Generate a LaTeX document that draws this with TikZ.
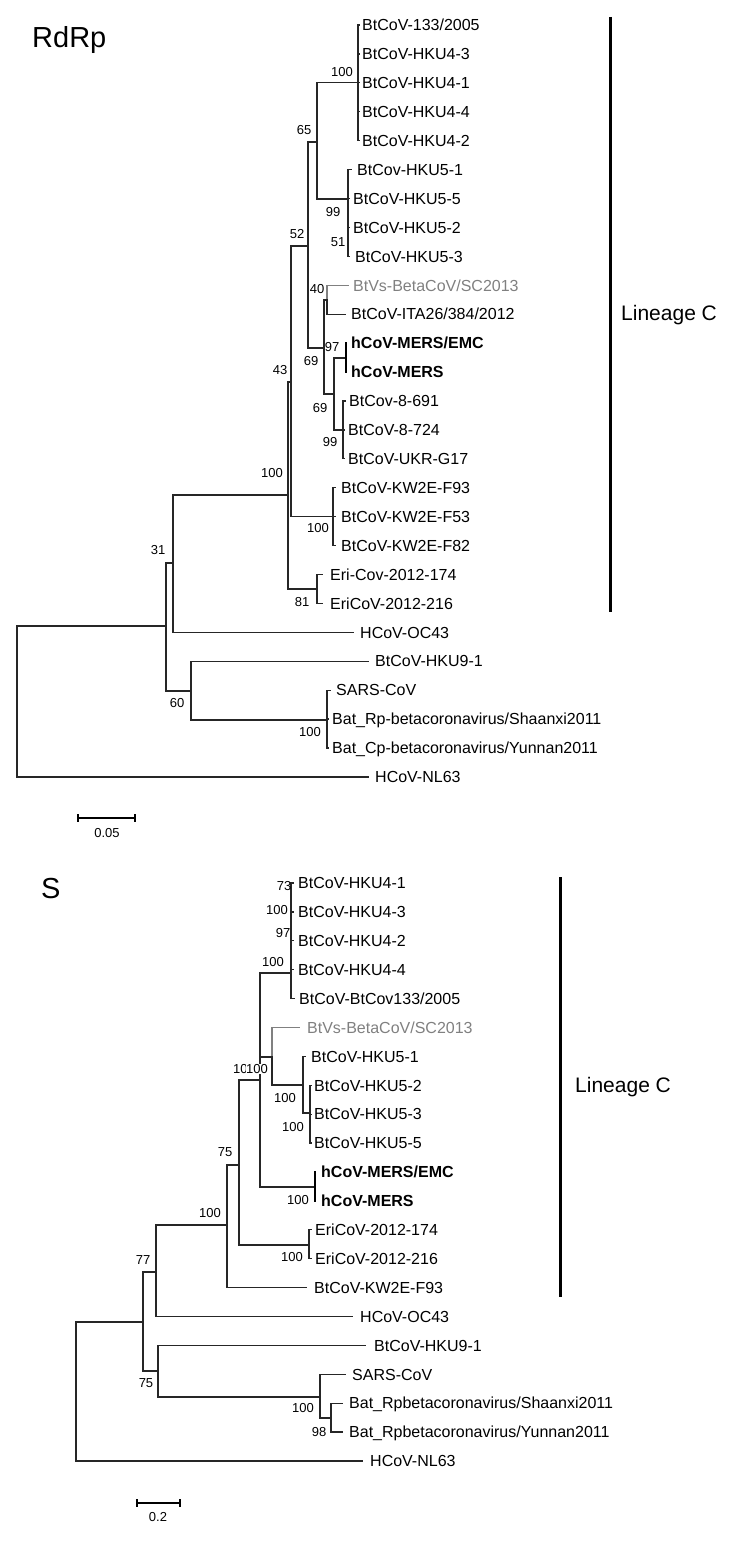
\documentclass[tikz,border=0pt]{standalone}
\usepackage{fontspec}
\setmainfont{Liberation Sans}
\definecolor{greyv}{HTML}{808080}
\begin{document}
\begin{tikzpicture}[x=1pt,y=-1pt,
  br/.style={line width=1.3pt, black!85, line cap=rect},
  brg/.style={line width=1.3pt, greyv},
  brthick/.style={line width=2.2pt, black},
  leaflab/.style={anchor=west, inner sep=0pt, font=\fontsize{16}{16}\selectfont, text height=11.4pt, text depth=0pt},
  bs/.style={inner sep=0pt, font=\fontsize{13}{13}\selectfont, text height=9.3pt, text depth=0pt},
  bsw/.style={bs, fill=white, inner sep=0.4pt},
  ttl/.style={anchor=west, inner sep=0pt, font=\fontsize{29}{29}\selectfont, text height=20.8pt, text depth=0pt},
  lin/.style={anchor=west, inner sep=0pt, font=\fontsize{21}{21}\selectfont, text height=15pt, text depth=0pt},
  bar/.style={line width=3pt, black},
  sbar/.style={line width=1.4pt, black}
]
\useasboundingbox (0,0) rectangle (750,1557);

% ================= RdRp =================
\node[ttl] (t1) at (32,37) {RdRp};

\coordinate (R) at (17,701);
\coordinate (A) at (166,626);
\coordinate (C31) at (173,563);
\coordinate (N100a) at (288,495);
\coordinate (N43) at (291,382);
\coordinate (N52) at (308,246);
\coordinate (N65) at (317,142);
\coordinate (H4) at (358,82.8);
\coordinate (H5) at (348,199);
\coordinate (N69) at (324,348);
\coordinate (N40) at (327,300);
\coordinate (N69b) at (334,394);
\coordinate (ME) at (346,358);
\coordinate (N8) at (343,430);
\coordinate (KW) at (333,516.6);
\coordinate (ER) at (317,589);
\coordinate (N60) at (191,691);
\coordinate (SA) at (327,720);

% leaves: tips and labels
\coordinate (ta0) at (359,25.0);   \node[leaflab] (la0) at (362,25.0) {BtCoV-133/2005};
\coordinate (ta1) at (359,53.9);   \node[leaflab] (la1) at (362,53.9) {BtCoV-HKU4-3};
\coordinate (ta2) at (359,82.8);   \node[leaflab] (la2) at (362,82.8) {BtCoV-HKU4-1};
\coordinate (ta3) at (359,111.8);  \node[leaflab] (la3) at (362,111.8) {BtCoV-HKU4-4};
\coordinate (ta4) at (359,140.7);  \node[leaflab] (la4) at (362,140.7) {BtCoV-HKU4-2};
\coordinate (ta5) at (351,169.6);  \node[leaflab] (la5) at (357,169.6) {BtCov-HKU5-1};
\coordinate (ta6) at (349,198.5);  \node[leaflab] (la6) at (353,198.5) {BtCoV-HKU5-5};
\coordinate (ta7) at (349,227.4);  \node[leaflab] (la7) at (353,227.4) {BtCoV-HKU5-2};
\coordinate (ta8) at (349,256.4);  \node[leaflab] (la8) at (355,256.4) {BtCoV-HKU5-3};
\coordinate (ta9) at (349,285.3);  \node[leaflab, text=greyv] (la9) at (353,285.3) {BtVs-BetaCoV/SC2013};
\coordinate (ta10) at (345,314.2); \node[leaflab] (la10) at (351,314.2) {BtCoV-ITA26/384/2012};
\coordinate (ta11) at (347,343.1); \node[leaflab] (la11) at (351,343.1) {\bfseries hCoV-MERS/EMC};
\coordinate (ta12) at (347,372.0); \node[leaflab] (la12) at (351,372.0) {\bfseries hCoV-MERS};
\coordinate (ta13) at (345,401.0); \node[leaflab] (la13) at (349,401.0) {BtCov-8-691};
\coordinate (ta14) at (344,429.9); \node[leaflab] (la14) at (348,429.9) {BtCoV-8-724};
\coordinate (ta15) at (344,458.8); \node[leaflab] (la15) at (348,458.8) {BtCoV-UKR-G17};
\coordinate (ta16) at (335,487.7); \node[leaflab] (la16) at (341,487.7) {BtCoV-KW2E-F93};
\coordinate (ta17) at (335,516.6); \node[leaflab] (la17) at (341,516.6) {BtCoV-KW2E-F53};
\coordinate (ta18) at (335,545.6); \node[leaflab] (la18) at (341,545.6) {BtCoV-KW2E-F82};
\coordinate (ta19) at (322,574.5); \node[leaflab] (la19) at (330,574.5) {Eri-Cov-2012-174};
\coordinate (ta20) at (322,603.4); \node[leaflab] (la20) at (330,603.4) {EriCoV-2012-216};
\coordinate (ta21) at (353,632.3); \node[leaflab] (la21) at (360,632.3) {HCoV-OC43};
\coordinate (ta22) at (368,661.2); \node[leaflab] (la22) at (375,661.2) {BtCoV-HKU9-1};
\coordinate (ta23) at (330,690.2); \node[leaflab] (la23) at (336,690.2) {SARS-CoV};
\coordinate (ta24) at (328,719.1); \node[leaflab] (la24) at (332,719.1) {Bat\_Rp-betacoronavirus/Shaanxi2011};
\coordinate (ta25) at (328,748.0); \node[leaflab] (la25) at (332,748.0) {Bat\_Cp-betacoronavirus/Yunnan2011};
\coordinate (ta26) at (368,776.9); \node[leaflab] (la26) at (375,776.9) {HCoV-NL63};

% branches
\draw[br] (R) |- (A);  \draw[br] (R) |- (ta26);
\draw[br] (A) |- (C31); \draw[br] (A) |- (N60);
\draw[br] (C31) |- (N100a); \draw[br] (C31) |- (ta21);
\draw[br] (N100a) |- (N43); \draw[br] (N100a) |- (ER);
\draw[br] (N43) |- (N52); \draw[br] (N43) |- (KW);
\draw[br] (N52) |- (N65); \draw[br] (N52) |- (N69);
\draw[br] (N65) |- (H4); \draw[br] (N65) |- (H5);
\foreach \i in {0,...,4} {\draw[br] (H4) |- (ta\i);}
\foreach \i in {5,...,8} {\draw[br] (H5) |- (ta\i);}
\draw[br] (N69) |- (N40); \draw[br] (N69) |- (N69b);
\draw[brg] (N40) |- (ta9); \draw[br] (N40) |- (ta10);
\draw[br] (N69b) |- (ME); \draw[br] (N69b) |- (N8);
\draw[brthick] (ME) |- (ta11); \draw[brthick] (ME) |- (ta12);
\foreach \i in {13,14,15} {\draw[br] (N8) |- (ta\i);}
\foreach \i in {16,17,18} {\draw[br] (KW) |- (ta\i);}
\draw[br] (ER) |- (ta19); \draw[br] (ER) |- (ta20);
\draw[br] (N60) |- (ta22); \draw[br] (N60) |- (SA);
\foreach \i in {23,24,25} {\draw[br] (SA) |- (ta\i);}

% bootstrap values
\node[bs] (ba1) at (342,72) {100};
\node[bs] (ba2) at (304,130) {65};
\node[bs] (ba3) at (333,212) {99};
\node[bs] (ba4) at (338,242) {51};
\node[bs] (ba5) at (297,234) {52};
\node[bs] (ba6) at (317,289) {40};
\node[bs] (ba7) at (332,347) {97};
\node[bs] (ba8) at (311,361) {69};
\node[bs] (ba9) at (320,408) {69};
\node[bs] (ba10) at (330,442) {99};
\node[bs] (ba11) at (280,370) {43};
\node[bs] (ba12) at (272,473) {100};
\node[bs] (ba13) at (318,528) {100};
\node[bs] (ba14) at (302,602) {81};
\node[bs] (ba15) at (158,550) {31};
\node[bs] (ba16) at (177,703) {60};
\node[bs] (ba17) at (310,732) {100};

% lineage bar
\coordinate (lca) at (610,17);
\coordinate (lcb) at (610,612);
\draw[bar] (lca) -- (lcb);
\node[lin] (lc1) at (621,313) {Lineage C};

% scale bar
\coordinate (sa1) at (78,818);
\coordinate (sa2) at (135,818);
\draw[sbar] (sa1) -- (sa2);
\draw[sbar] ([yshift=4pt]sa1) -- ([yshift=-4pt]sa1);
\draw[sbar] ([yshift=4pt]sa2) -- ([yshift=-4pt]sa2);
\node[bs] (sl1) at (107,833) {0.05};

% ================= S =================
\node[ttl] (t2) at (41,888) {S};

\coordinate (SR) at (76,1390);
\coordinate (S143) at (143,1322);
\coordinate (S77) at (156,1272);
\coordinate (S100a) at (227,1225);
\coordinate (S75) at (239,1165);
\coordinate (S100b) at (260,1080);
\coordinate (SH4) at (291,973);
\coordinate (S100c) at (272,1057);
\coordinate (S5) at (303,1085);
\coordinate (S5b) at (310,1113);
\coordinate (SME) at (315,1187);
\coordinate (SER) at (309,1245);
\coordinate (S75b) at (158,1371);
\coordinate (S100d) at (320,1397);
\coordinate (S98) at (331,1418);

\coordinate (tb0) at (293,883.0);   \node[leaflab] (lb0) at (298,883.0) {BtCoV-HKU4-1};
\coordinate (tb1) at (293,911.9);   \node[leaflab] (lb1) at (298,911.9) {BtCoV-HKU4-3};
\coordinate (tb2) at (293,940.8);   \node[leaflab] (lb2) at (298,940.8) {BtCoV-HKU4-2};
\coordinate (tb3) at (293,969.7);   \node[leaflab] (lb3) at (298,969.7) {BtCoV-HKU4-4};
\coordinate (tb4) at (294,998.6);   \node[leaflab] (lb4) at (299,998.6) {BtCoV-BtCov133/2005};
\coordinate (tb5) at (300,1027.5);  \node[leaflab, text=greyv] (lb5) at (307,1027.5) {BtVs-BetaCoV/SC2013};
\coordinate (tb6) at (305,1056.4);  \node[leaflab] (lb6) at (311,1056.4) {BtCoV-HKU5-1};
\coordinate (tb7) at (311,1085.3);  \node[leaflab] (lb7) at (314,1085.3) {BtCoV-HKU5-2};
\coordinate (tb8) at (311,1114.2);  \node[leaflab] (lb8) at (314,1114.2) {BtCoV-HKU5-3};
\coordinate (tb9) at (311,1143.1);  \node[leaflab] (lb9) at (314,1143.1) {BtCoV-HKU5-5};
\coordinate (tb10) at (316,1172.0); \node[leaflab] (lb10) at (321,1172.0) {\bfseries hCoV-MERS/EMC};
\coordinate (tb11) at (316,1200.9); \node[leaflab] (lb11) at (321,1200.9) {\bfseries hCoV-MERS};
\coordinate (tb12) at (311,1229.8); \node[leaflab] (lb12) at (315,1229.8) {EriCoV-2012-174};
\coordinate (tb13) at (311,1258.7); \node[leaflab] (lb13) at (315,1258.7) {EriCoV-2012-216};
\coordinate (tb14) at (306,1287.6); \node[leaflab] (lb14) at (314,1287.6) {BtCoV-KW2E-F93};
\coordinate (tb15) at (352,1316.5); \node[leaflab] (lb15) at (360,1316.5) {HCoV-OC43};
\coordinate (tb16) at (365,1345.4); \node[leaflab] (lb16) at (374,1345.4) {BtCoV-HKU9-1};
\coordinate (tb17) at (345,1374.3); \node[leaflab] (lb17) at (352,1374.3) {SARS-CoV};
\coordinate (tb18) at (342,1403.2); \node[leaflab] (lb18) at (349,1403.2) {Bat\_Rpbetacoronavirus/Shaanxi2011};
\coordinate (tb19) at (342,1432.1); \node[leaflab] (lb19) at (349,1432.1) {Bat\_Rpbetacoronavirus/Yunnan2011};
\coordinate (tb20) at (362,1461.0); \node[leaflab] (lb20) at (370,1461.0) {HCoV-NL63};

\draw[br] (SR) |- (S143); \draw[br] (SR) |- (tb20);
\draw[br] (S143) |- (S77); \draw[br] (S143) |- (S75b);
\draw[br] (S77) |- (S100a); \draw[br] (S77) |- (tb15);
\draw[br] (S100a) |- (S75); \draw[br] (S100a) |- (tb14);
\draw[br] (S75) |- (S100b); \draw[br] (S75) |- (SER);
\draw[br] (S100b) |- (SH4); \draw[br] (S100b) |- (S100c); \draw[br] (S100b) |- (SME);
\foreach \i in {0,...,4} {\draw[br] (SH4) |- (tb\i);}
\draw[brg] (S100c) |- (tb5); \draw[br] (S100c) |- (S5);
\draw[br] (S5) |- (tb6); \draw[br] (S5) |- (S5b);
\foreach \i in {7,8,9} {\draw[br] (S5b) |- (tb\i);}
\draw[brthick] (SME) |- (tb10); \draw[brthick] (SME) |- (tb11);
\draw[br] (SER) |- (tb12); \draw[br] (SER) |- (tb13);
\draw[br] (S75b) |- (tb16); \draw[br] (S75b) |- (S100d);
\draw[br] (S100d) |- (tb17); \draw[br] (S100d) |- (S98);
\draw[br] (S98) |- (tb18); \draw[br] (S98) |- (tb19);

\node[bs] (bb1) at (284,886) {73};
\node[bs] (bb2) at (277,910) {100};
\node[bs] (bb3) at (283,933) {97};
\node[bs] (bb4) at (273,962) {100};
\node[bsw] (bb5) at (244,1069) {100};
\node[bsw] (bb6) at (257,1069) {100};
\node[bs] (bb7) at (285,1098) {100};
\node[bs] (bb8) at (293,1127) {100};
\node[bs] (bb9) at (225,1152) {75};
\node[bs] (bb10) at (298,1200) {100};
\node[bs] (bb11) at (210,1213) {100};
\node[bs] (bb12) at (292,1257) {100};
\node[bs] (bb13) at (143,1260) {77};
\node[bs] (bb14) at (146,1383) {75};
\node[bs] (bb15) at (303,1408) {100};
\node[bs] (bb16) at (319,1432) {98};

\coordinate (lcc) at (560,877);
\coordinate (lcd) at (560,1297);
\draw[bar] (lcc) -- (lcd);
\node[lin] (lc2) at (575,1085) {Lineage C};

\coordinate (sb1) at (137,1503);
\coordinate (sb2) at (180,1503);
\draw[sbar] (sb1) -- (sb2);
\draw[sbar] ([yshift=4pt]sb1) -- ([yshift=-4pt]sb1);
\draw[sbar] ([yshift=4pt]sb2) -- ([yshift=-4pt]sb2);
\node[bs] (sl2) at (158,1517) {0.2};
\end{tikzpicture}
\end{document}
